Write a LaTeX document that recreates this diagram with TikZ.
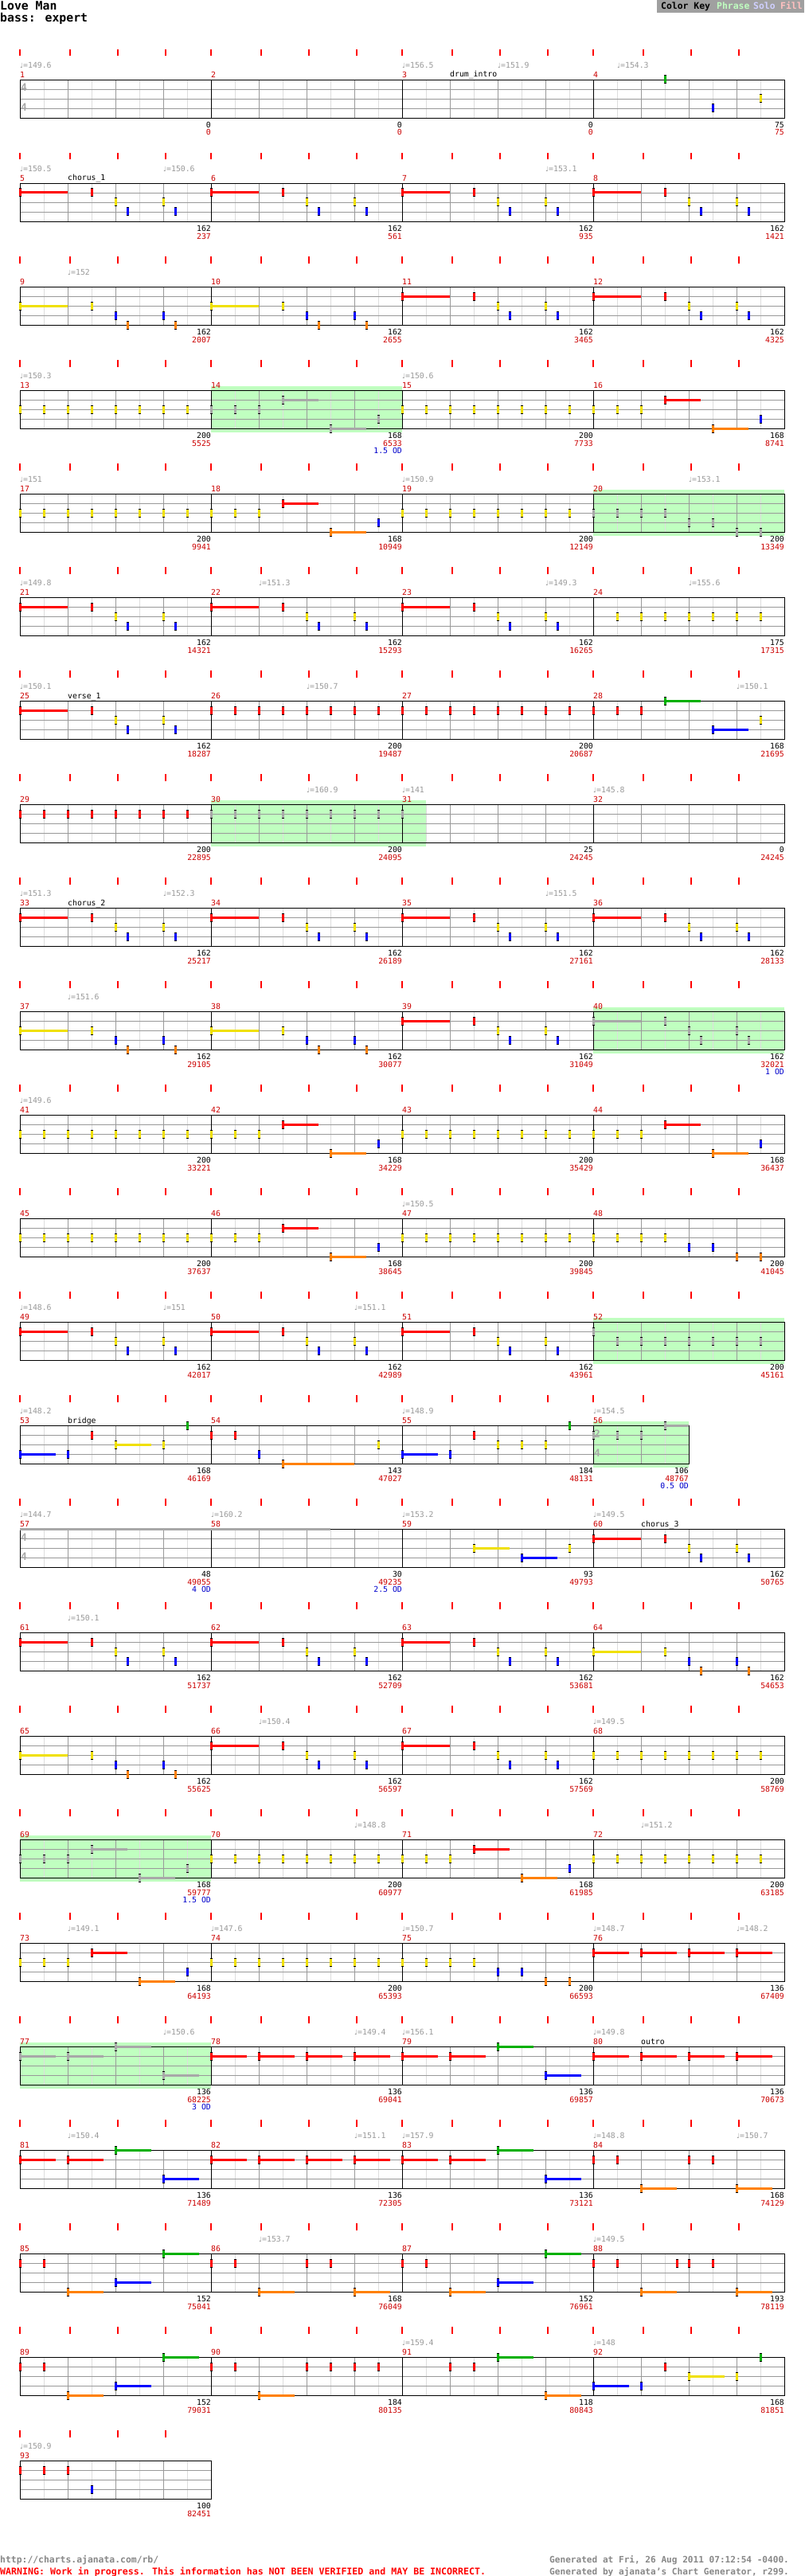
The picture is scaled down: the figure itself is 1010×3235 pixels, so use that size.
\documentclass[tikz,border=0pt]{standalone}
\usepackage{fontspec}
\newfontfamily\mono{DejaVu Sans Mono}
\newfontfamily\dvs{DejaVu Sans}
\definecolor{cG}{HTML}{00B000}
\definecolor{cR}{HTML}{FF0000}
\definecolor{cY}{HTML}{F0E000}
\definecolor{cB}{HTML}{0000FF}
\definecolor{cO}{HTML}{FF8000}
\definecolor{cS}{HTML}{A8A8A8}
\definecolor{cPh}{HTML}{C0FFC0}
\definecolor{cLt}{HTML}{DDDDDD}
\definecolor{cMd}{HTML}{999999}
\definecolor{cNum}{HTML}{CC0000}
\definecolor{cOD}{HTML}{0000CC}
\definecolor{cTmp}{HTML}{999999}
\definecolor{cKey}{HTML}{A0A0A0}
\definecolor{cSolo}{HTML}{D0D0FF}
\definecolor{cFill}{HTML}{FFC0C0}
\definecolor{cFoot}{HTML}{888888}

\newcommand\ptCH{1/0/4,1/6/0,2/8/0,3/9/0,2/12/0,3/13/0}
\newcommand\ptCHg{6/0/4,6/6/0,7/8/0,8/9/0,7/12/0,8/13/0}
\newcommand\ptCHd{2/0/4,2/6/0,3/8/0,4/9/0,3/12/0,4/13/0}
\newcommand\ptPA{2/0/0,2/2/0,2/4/0,2/6/0,2/8/0,2/10/0,2/12/0,2/14/0}
\newcommand\ptPB{2/0/0,2/2/0,2/4/0,1/6/3,4/10/3,3/14/0}
\newcommand\ptPBg{7/0/0,7/2/0,7/4/0,6/6/3,9/10/3,8/14/0}
\newcommand\ptPC{2/0/0,2/2/0,2/4/0,2/6/0,3/8/0,3/10/0,4/12/0,4/14/0}
\newcommand\ptPCg{7/0/0,7/2/0,7/4/0,7/6/0,8/8/0,8/10/0,9/12/0,9/14/0}
\newcommand\ptRA{1/0/0,1/2/0,1/4/0,1/6/0,1/8/0,1/10/0,1/12/0,1/14/0}
\newcommand\ptRAg{6/0/0,6/2/0,6/4/0,6/6/0,6/8/0,6/10/0,6/12/0,6/14/0}
\newcommand\ptRF{1/0/3,1/4/3,1/8/3,1/12/3}
\newcommand\ptRRGB{1/0/3,1/4/3,0/8/3,3/12/3}

\newcommand\mpos[1]{%
  \pgfmathtruncatemacro\mrow{(#1-1)/4}%
  \pgfmathtruncatemacro\mcol{mod(#1-1,4)}%
  \pgfmathsetmacro\xo{25+240*\mcol}%
  \pgfmathsetmacro\yo{100+130*\mrow}}

\newcommand\mnotes[2]{%
  \mpos{#1}%
  \edef\nlist{#2}%
  \foreach \lc/\ps/\ss in \nlist {%
    \pgfmathsetmacro\nx{\xo+15*\ps}%
    \pgfmathtruncatemacro\lnn{mod(\lc,5)}%
    \pgfmathsetmacro\ny{\yo+12*\lnn}%
    \ifcase\lc\relax \def\nc{cG}\or\def\nc{cR}\or\def\nc{cY}\or\def\nc{cB}\or\def\nc{cO}\else\def\nc{cS}\fi
    \ifnum\ss>0 \fill[\nc] (\nx,\ny-1.5) rectangle ({\nx+15*\ss},\ny+1.5);\fi
    \fill[black] (\nx-1.5,\ny-5.5) rectangle (\nx+1.5,\ny+5.5);
    \fill[\nc] (\nx-1.5,\ny-4.5) rectangle (\nx+1.5,\ny+4.5);
  }}

\newcommand\staffrow[3]{%
  \pgfmathsetmacro\rowT{100+130*#1}%
  \pgfmathsetmacro\xe{25+60*#2}%
  \pgfmathtruncatemacro\nb{#2-1}%
  \foreach \ii in {1,...,#2} {\draw[cLt] ({25+60*\ii-30},\rowT) -- ++(0,48);}
  \foreach \ii in {1,...,\nb} {\draw[cMd] ({25+60*\ii},\rowT) -- ++(0,48);}
  \foreach \kk in {12,24,36} {\draw[cMd] (25,\rowT+\kk) -- (\xe,\rowT+\kk);}
  \ifnum#3>1 \pgfmathtruncatemacro\nm{#3-1}%
    \foreach \jj in {1,...,\nm} {\draw[black] ({25+240*\jj},\rowT) -- ++(0,48);}\fi
  \draw[black] (25,\rowT) rectangle (\xe,\rowT+48);
  \foreach \ii in {0,...,\nb} {%
    \pgfmathsetmacro\tx{25+60*\ii+(mod(\ii,4)==0?0:3)}%
    \fill[red] (\tx-1,\rowT-38) rectangle (\tx+1,\rowT-29.5);}
}

\begin{document}
\begin{tikzpicture}[x=1pt,y=-1pt,
  txt/.style={inner sep=0pt,font=\mono\fontsize{9.8}{10}\selectfont},
  tsig/.style={inner sep=0pt,text=cS,font=\mono\bfseries\fontsize{13}{13}\selectfont},
  foot/.style={inner sep=0pt,anchor=base west,font=\mono\bfseries\fontsize{11.4}{12}\selectfont}]
\useasboundingbox (0,0) rectangle (1010,3235);
\fill[white] (0,0) rectangle (1010,3235);

% title and key
\node[inner sep=0pt,anchor=base west,font=\mono\bfseries\fontsize{14.8}{15}\selectfont,name=title] at (0,12.7) {Love Man};
\node[inner sep=0pt,anchor=base west,font=\mono\bfseries\fontsize{14.8}{15}\selectfont,name=subtitle] at (0,27.5) {bass: expert};
\fill[cKey] (825,0) rectangle (1010,16);
\node[foot,name=key1] at (830,11.5) {Color Key};
\node[foot,text=cPh,name=key2] at (900,11.5) {Phrase};
\node[foot,text=cSolo,name=key3] at (946,11.5) {Solo};
\node[foot,text=cFill,name=key4] at (980,11.5) {Fill};

% phrase highlights
\foreach \rr/\ua/\ub in {3/265/505,4/745/985,7/265/535,9/745/985,12/745/985,13/745/865,17/25/265,19/25/265}
  {\fill[cPh] (\ua,{100+130*\rr-5}) rectangle (\ub,{100+130*\rr+53});}

% staves
\foreach \rr in {0,...,12} {\staffrow{\rr}{16}{4}}
\staffrow{13}{14}{4}
\foreach \rr in {14,...,22} {\staffrow{\rr}{16}{4}}
\staffrow{23}{4}{1}

% time signatures
\node[tsig,anchor=base west,name=ts1a] at (26,115) {4};
\node[tsig,anchor=base west,name=ts1b] at (26,139.3) {4};
\node[tsig,anchor=base west,name=ts2a] at (746,1805) {2};
\node[tsig,anchor=base west,name=ts2b] at (746,1829.3) {4};
\node[tsig,anchor=base west,name=ts3a] at (26,1935) {4};
\node[tsig,anchor=base west,name=ts3b] at (26,1959.3) {4};

% notes
\mnotes{4}{0/6/0,3/10/0,2/14/0}
\mnotes{5}{\ptCH}\mnotes{6}{\ptCH}\mnotes{7}{\ptCH}\mnotes{8}{\ptCH}
\mnotes{9}{\ptCHd}\mnotes{10}{\ptCHd}\mnotes{11}{\ptCH}\mnotes{12}{\ptCH}
\mnotes{13}{\ptPA}\mnotes{14}{\ptPBg}\mnotes{15}{\ptPA}\mnotes{16}{\ptPB}
\mnotes{17}{\ptPA}\mnotes{18}{\ptPB}\mnotes{19}{\ptPA}\mnotes{20}{\ptPCg}
\mnotes{21}{\ptCH}\mnotes{22}{\ptCH}\mnotes{23}{\ptCH}
\mnotes{24}{2/2/0,2/4/0,2/6/0,2/8/0,2/10/0,2/12/0,2/14/0}
\mnotes{25}{\ptCH}\mnotes{26}{\ptRA}\mnotes{27}{\ptRA}
\mnotes{28}{1/0/0,1/2/0,1/4/0,0/6/3,3/10/3,2/14/0}
\mnotes{29}{\ptRA}\mnotes{30}{\ptRAg}\mnotes{31}{6/0/0}
\mnotes{33}{\ptCH}\mnotes{34}{\ptCH}\mnotes{35}{\ptCH}\mnotes{36}{\ptCH}
\mnotes{37}{\ptCHd}\mnotes{38}{\ptCHd}\mnotes{39}{\ptCH}\mnotes{40}{\ptCHg}
\mnotes{41}{\ptPA}\mnotes{42}{\ptPB}\mnotes{43}{\ptPA}\mnotes{44}{\ptPB}
\mnotes{45}{\ptPA}\mnotes{46}{\ptPB}\mnotes{47}{\ptPA}\mnotes{48}{\ptPC}
\mnotes{49}{\ptCH}\mnotes{50}{\ptCH}\mnotes{51}{\ptCH}
\mnotes{52}{6/0/0,7/2/0,7/4/0,7/6/0,7/8/0,7/10/0,7/12/0,7/14/0}
\mnotes{53}{3/0/3,3/4/0,1/6/0,2/8/3,2/12/0,0/14/0}
\mnotes{54}{1/0/0,1/2/0,3/4/0,4/6/6,2/14/0}
\mnotes{55}{3/0/3,3/4/0,1/6/0,2/8/0,2/10/0,2/12/0,0/14/0}
\mnotes{56}{6/0/0,6/2/0,6/4/0,5/6/2}
\fill[cS] (25,1918.5) rectangle (415,1921.5);
\mnotes{59}{2/6/3,3/10/3,2/14/0}
\mnotes{60}{\ptCH}\mnotes{61}{\ptCH}\mnotes{62}{\ptCH}\mnotes{63}{\ptCH}
\mnotes{64}{\ptCHd}\mnotes{65}{\ptCHd}\mnotes{66}{\ptCH}\mnotes{67}{\ptCH}
\mnotes{68}{\ptPA}\mnotes{69}{\ptPBg}\mnotes{70}{\ptPA}\mnotes{71}{\ptPB}
\mnotes{72}{\ptPA}\mnotes{73}{\ptPB}\mnotes{74}{\ptPA}\mnotes{75}{\ptPC}
\mnotes{76}{\ptRF}
\mnotes{77}{6/0/3,6/4/3,5/8/3,8/12/3}
\mnotes{78}{\ptRF}\mnotes{79}{\ptRRGB}\mnotes{80}{\ptRF}
\mnotes{81}{\ptRRGB}\mnotes{82}{\ptRF}\mnotes{83}{\ptRRGB}
\mnotes{84}{1/0/0,1/2/0,4/4/3,1/8/0,1/10/0,4/12/3}
\mnotes{85}{1/0/0,1/2/0,4/4/3,3/8/3,0/12/3}
\mnotes{86}{1/0/0,1/2/0,4/4/3,1/8/0,1/10/0,4/12/3}
\mnotes{87}{1/0/0,1/2/0,4/4/3,3/8/3,0/12/3}
\mnotes{88}{1/0/0,1/2/0,4/4/3,1/7/0,1/8/0,1/10/0,4/12/3}
\mnotes{89}{1/0/0,1/2/0,4/4/3,3/8/3,0/12/3}
\mnotes{90}{1/0/0,1/2/0,4/4/3,1/8/0,1/10/0,1/12/0,1/14/0}
\mnotes{91}{1/4/0,1/6/0,0/8/3,4/12/3}
\mnotes{92}{3/0/3,3/4/0,1/6/0,2/8/3,2/12/0,0/14/0}
\mnotes{93}{1/0/0,1/2/0,1/4/0,3/6/0}

% measure numbers
\foreach \mm in {1,...,93} {\mpos{\mm}
  \node[txt,text=cNum,anchor=base west,name=mn\mm] at (\xo,\yo-2.7) {\mm};}

% tempo marks
\foreach \rr/\tx/\tv in {0/25/149.6,0/505/156.5,0/625/151.9,0/775/154.3,
  1/25/150.5,1/205/150.6,1/685/153.1,2/85/152,3/25/150.3,3/505/150.6,
  4/25/151,4/505/150.9,4/865/153.1,5/25/149.8,5/325/151.3,5/685/149.3,5/865/155.6,
  6/25/150.1,6/385/150.7,6/925/150.1,7/385/160.9,7/505/141,7/745/145.8,
  8/25/151.3,8/205/152.3,8/685/151.5,9/85/151.6,10/25/149.6,11/505/150.5,
  12/25/148.6,12/205/151,12/445/151.1,13/25/148.2,13/505/148.9,13/745/154.5,
  14/25/144.7,14/265/160.2,14/505/153.2,14/745/149.5,15/85/150.1,
  16/325/150.4,16/745/149.5,17/445/148.8,17/805/151.2,
  18/85/149.1,18/265/147.6,18/505/150.7,18/745/148.7,18/925/148.2,
  19/205/150.6,19/445/149.4,19/505/156.1,19/745/149.8,
  20/85/150.4,20/445/151.1,20/505/157.9,20/745/148.8,20/925/150.7,
  21/325/153.7,21/745/149.5,22/505/159.4,22/745/148,23/25/150.9}
  {\node[txt,text=cTmp,anchor=base west,name=tp-\rr-\tx] at (\tx,{100+130*\rr-14.3}) {{\dvs\fontsize{8.5}{9}\selectfont ♩}=\tv};}

% section labels
\foreach \rr/\tx/\tv in {0/565/drum\_intro,1/85/chorus\_1,6/85/verse\_1,8/85/chorus\_2,
  13/85/bridge,14/805/chorus\_3,19/805/outro}
  {\node[txt,anchor=base west,name=sec-\rr] at (\tx,{100+130*\rr-3}) {\tv};}

% scores
\foreach \mm/\ua/\ub in {1/0/0,2/0/0,3/0/0,4/75/75,5/162/237,6/162/561,7/162/935,8/162/1421,
  9/162/2007,10/162/2655,11/162/3465,12/162/4325,13/200/5525,14/168/6533,15/200/7733,16/168/8741,
  17/200/9941,18/168/10949,19/200/12149,20/200/13349,21/162/14321,22/162/15293,23/162/16265,24/175/17315,
  25/162/18287,26/200/19487,27/200/20687,28/168/21695,29/200/22895,30/200/24095,31/25/24245,32/0/24245,
  33/162/25217,34/162/26189,35/162/27161,36/162/28133,37/162/29105,38/162/30077,39/162/31049,40/162/32021,
  41/200/33221,42/168/34229,43/200/35429,44/168/36437,45/200/37637,46/168/38645,47/200/39845,48/200/41045,
  49/162/42017,50/162/42989,51/162/43961,52/200/45161,53/168/46169,54/143/47027,55/184/48131,56/106/48767,
  57/48/49055,58/30/49235,59/93/49793,60/162/50765,61/162/51737,62/162/52709,63/162/53681,64/162/54653,
  65/162/55625,66/162/56597,67/162/57569,68/200/58769,69/168/59777,70/200/60977,71/168/61985,72/200/63185,
  73/168/64193,74/200/65393,75/200/66593,76/136/67409,77/136/68225,78/136/69041,79/136/69857,80/136/70673,
  81/136/71489,82/136/72305,83/136/73121,84/168/74129,85/152/75041,86/168/76049,87/152/76961,88/193/78119,
  89/152/79031,90/184/80135,91/118/80843,92/168/81851,93/100/82451}
  {\mpos{\mm}\pgfmathsetmacro\xe{\mm==56 ? \xo+120 : \xo+240}
   \node[txt,anchor=base east,name=sa\mm] at (\xe,\yo+60.7) {\ua};
   \node[txt,text=cNum,anchor=base east,name=sb\mm] at (\xe,\yo+70) {\ub};}

% overdrive
\foreach \mm/\tv in {14/1.5 OD,40/1 OD,56/0.5 OD,57/4 OD,58/2.5 OD,69/1.5 OD,77/3 OD}
  {\mpos{\mm}\pgfmathsetmacro\xe{\mm==56 ? \xo+120 : \xo+240}
   \node[txt,text=cOD,anchor=base east,name=od\mm] at (\xe,\yo+79) {\tv};}

% footer
\node[foot,text=cFoot,name=url] at (0,3218) {http://charts.ajanata.com/rb/};
\node[foot,text=red,font=\mono\bfseries\fontsize{11.6}{12}\selectfont,name=warn] at (0,3233) {WARNING: Work in progress. This information has NOT BEEN VERIFIED and MAY BE INCORRECT.};
\node[foot,text=cFoot,font=\mono\bfseries\fontsize{11.1}{12}\selectfont,name=gen1] at (690,3218) {Generated at Fri, 26 Aug 2011 07:12:54 -0400.};
\node[foot,text=cFoot,font=\mono\bfseries\fontsize{11.1}{12}\selectfont,name=gen2] at (690,3233) {Generated by ajanata’s Chart Generator, r299.};
\end{tikzpicture}
\end{document}
